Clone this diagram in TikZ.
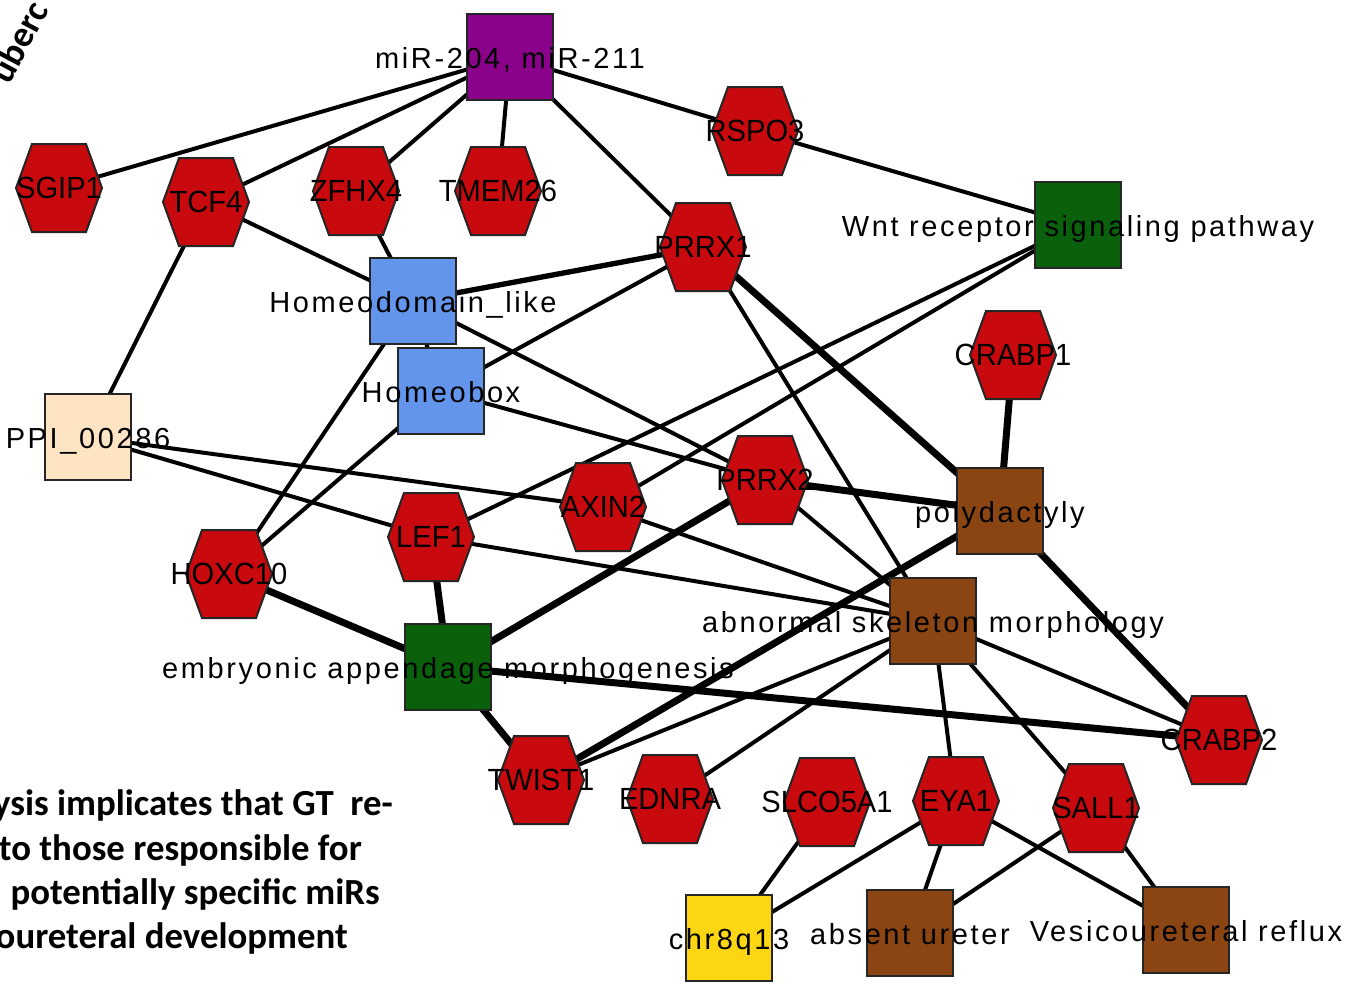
\documentclass[tikz,border=0pt]{standalone}
\usepackage{fontspec}
\setmainfont{Liberation Sans}
\newfontfamily\termfont[LetterSpace=9]{Liberation Sans}
\newfontfamily\genefont[FakeStretch=0.95]{Liberation Sans}
\newfontfamily\slidefont{Carlito}

\pgfdeclarelayer{edges}
\pgfdeclarelayer{hexes}
\pgfsetlayers{edges,hexes,main}

\definecolor{genered}{RGB}{200,10,14}
\definecolor{mirpurple}{RGB}{137,2,137}
\definecolor{gogreen}{RGB}{11,97,11}
\definecolor{homeoblue}{RGB}{100,149,237}
\definecolor{ppibisque}{RGB}{255,228,196}
\definecolor{phenobrown}{RGB}{139,69,19}
\definecolor{chryellow}{RGB}{252,214,18}

\tikzset{every picture/.style={line width=0.75pt}}
\tikzset{
  term/.style={draw=black!85, line width=1.5pt, minimum size=65pt, inner sep=0pt,
    text height=19pt, text depth=2pt,
    font=\termfont\fontsize{21.75}{24}\selectfont,
    execute at begin node={\hbox to 0pt\bgroup\hss}, execute at end node={\hss\egroup}},
  hexa/.style={draw=black!85, line width=1.5pt, fill=genered},
  gene/.style={inner sep=0pt, font=\genefont\fontsize{23}{25}\selectfont,
    append after command={\pgfextra{\begin{pgfonlayer}{hexes}
      \draw[hexa] (\tikzlastnode.center) ++(-43,0) -- ++(16,-44) -- ++(54,0) -- ++(16,44) -- ++(-16,44) -- ++(-54,0) -- cycle;
      \end{pgfonlayer}}}},
  lnk/.style={line width=3pt},
  lnkmid/.style={line width=4pt},
  lnkbold/.style={line width=5.25pt},
  slide/.style={font=\slidefont\bfseries\fontsize{27.6}{30}\selectfont, inner sep=0pt}
}

\begin{document}
\begin{tikzpicture}[x=0.75pt,y=0.75pt,yscale=-1]
\useasboundingbox (0,0) rectangle (1353,989);
\begin{pgfonlayer}{edges}
\fill[white] (0,0) rectangle (1353,989);
\end{pgfonlayer}

%Terms
\node[term, fill=mirpurple] (mir) at (510,57) {miR-204, miR-211};
\node[term, fill=gogreen] (wnt) at (1078,225) {Wnt receptor signaling pathway};
\node[term, fill=homeoblue] (hdom) at (413,301) {Homeodomain\_like};
\node[term, fill=homeoblue] (hbox) at (441,391) {Homeobox};
\node[term, fill=ppibisque] (ppi) at (88,437) {PPI\_00286};
\node[term, fill=phenobrown] (poly) at (1000,511) {polydactyly};
\node[term, fill=phenobrown] (abn) at (933,621) {abnormal skeleton morphology};
\node[term, fill=gogreen] (emb) at (448,667) {embryonic appendage morphogenesis};
\node[term, fill=chryellow] (chr) at (729,938) {chr8q13};
\node[term, fill=phenobrown] (absu) at (910,933) {absent ureter};
\node[term, fill=phenobrown] (vur) at (1186,930) {Vesicoureteral reflux};

%Genes
\node[gene] (sgip) at (59,188) {SGIP1};
\node[gene] (tcf) at (206,202) {TCF4};
\node[gene] (zfhx) at (356,191) {ZFHX4};
\node[gene] (tmem) at (498,191) {TMEM26};
\node[gene] (rspo) at (755,131) {RSPO3};
\node[gene] (prrxa) at (703,247) {PRRX1};
\node[gene] (crabpa) at (1013,355) {CRABP1};
\node[gene] (prrxb) at (765,480) {PRRX2};
\node[gene] (axin) at (603,507) {AXIN2};
\node[gene] (lef) at (431,537) {LEF1};
\node[gene] (hoxc) at (229,574) {HOXC10};
\node[gene] (twist) at (541,780) {TWIST1};
\node[gene] (ednra) at (670,799) {EDNRA};
\node[gene] (slco) at (827,802) {SLCO5A1};
\node[gene] (eya) at (956,801) {EYA1};
\node[gene] (sall) at (1096,808) {SALL1};
\node[gene] (crabpb) at (1219,740) {CRABP2};

%Edges
\begin{pgfonlayer}{edges}
\draw[lnk] (mir.center) -- (sgip.center);
\draw[lnk] (mir.center) -- (tcf.center);
\draw[lnk] (mir.center) -- (zfhx.center);
\draw[lnk] (mir.center) -- (tmem.center);
\draw[lnk] (mir.center) -- (prrxa.center);
\draw[lnk] (mir.center) -- (rspo.center);
\draw[lnk] (rspo.center) -- (wnt.center);
\draw[lnk] (tcf.center) -- (hdom.center);
\draw[lnk] (tcf.center) -- (ppi.center);
\draw[lnk] (zfhx.center) -- (hdom.center);
\draw[lnk] (hdom.center) -- (hbox.center);
\draw[lnk] (hdom.center) -- (prrxb.center);
\draw[lnk] (hdom.center) -- (hoxc.center);
\draw[lnk] (hbox.center) -- (prrxa.center);
\draw[lnk] (hbox.center) -- (prrxb.center);
\draw[lnk] (hbox.center) -- (hoxc.center);
\draw[lnk] (ppi.center) -- (axin.center);
\draw[lnk] (ppi.center) -- (lef.center);
\draw[lnk] (wnt.center) -- (lef.center);
\draw[lnk] (wnt.center) -- (axin.center);
\draw[lnk] (prrxa.center) -- (abn.center);
\draw[lnk] (prrxb.center) -- (abn.center);
\draw[lnk] (axin.center) -- (abn.center);
\draw[lnk] (lef.center) -- (abn.center);
\draw[lnk] (abn.center) -- (twist.center);
\draw[lnk] (abn.center) -- (ednra.center);
\draw[lnk] (abn.center) -- (eya.center);
\draw[lnk] (abn.center) -- (sall.center);
\draw[lnk] (abn.center) -- (crabpb.center);
\draw[lnk] (slco.center) -- (chr.center);
\draw[lnk] (eya.center) -- (chr.center);
\draw[lnk] (eya.center) -- (absu.center);
\draw[lnk] (eya.center) -- (vur.center);
\draw[lnk] (sall.center) -- (absu.center);
\draw[lnk] (sall.center) -- (vur.center);
%heavier edges
\draw[lnkmid] (hdom.center) -- (prrxa.center);
\draw[lnkbold] (prrxa.center) -- (poly.center);
\draw[lnkbold] (crabpa.center) -- (poly.center);
\draw[lnkbold] (prrxb.center) -- (poly.center);
\draw[lnkbold] (prrxb.center) -- (emb.center);
\draw[lnkbold] (lef.center) -- (emb.center);
\draw[lnkbold] (hoxc.center) -- (emb.center);
\draw[lnkbold] (emb.center) -- (crabpb.center);
\draw[lnkbold] (emb.center) -- (twist.center);
\draw[lnkbold] (poly.center) -- (twist.center);
\draw[lnkbold] (poly.center) -- (crabpb.center);
\end{pgfonlayer}

%Slide text
\node[slide, anchor=base west, rotate=62] (tub) at (9,86) {uberc};
\node[slide, anchor=base east] (sa) at (393,815) {ysis implicates that GT~~re-};
\node[slide, anchor=base east] (sb) at (362,860) {to those responsible for};
\node[slide, anchor=base east] (sc) at (380,904) {potentially specific miRs};
\node[slide, anchor=base east] (sd) at (348,948) {oureteral development};

\end{tikzpicture}
\end{document}
